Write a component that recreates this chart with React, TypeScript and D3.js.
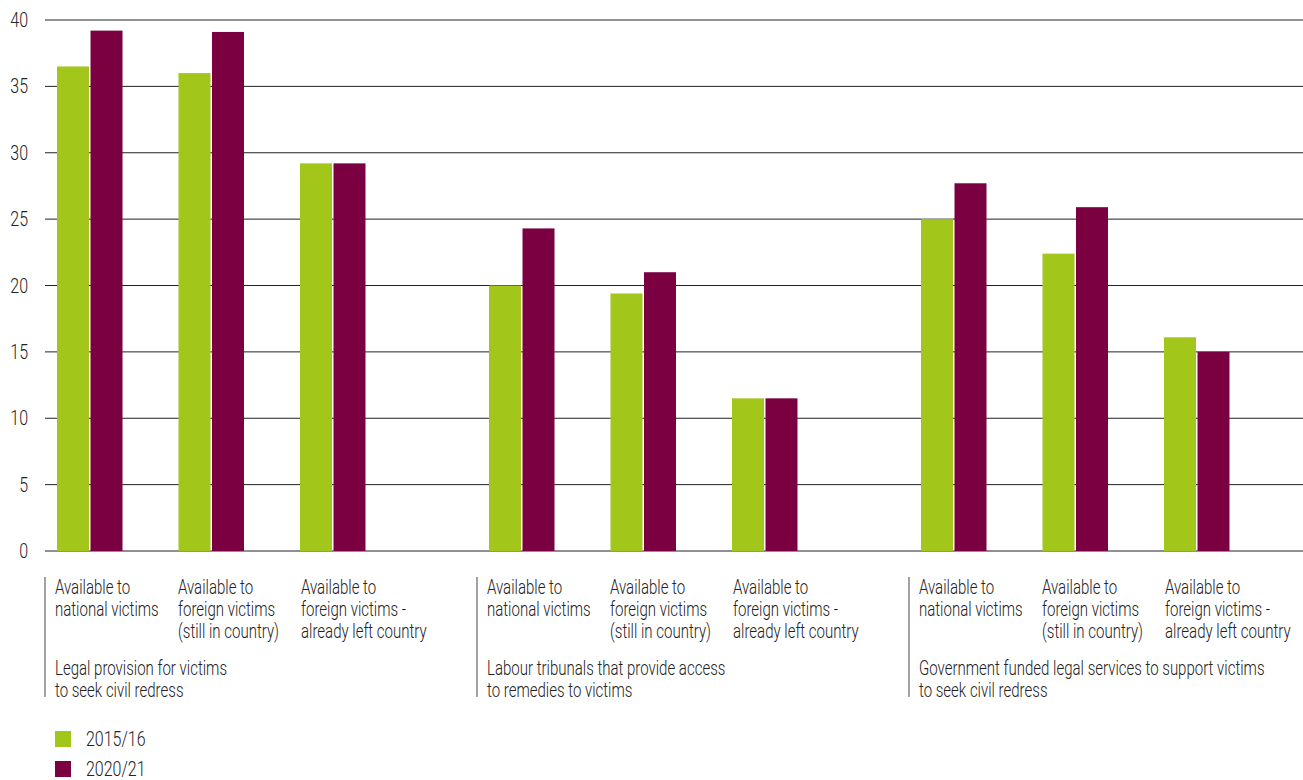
import React from "react";
import * as d3 from "d3";

const groups = [
  ["Legal provision for victims", "to seek civil redress"],
  ["Labour tribunals that provide access", "to remedies to victims"],
  ["Government funded legal services to support victims", "to seek civil redress"],
];
const categories = [
  ["Available to", "national victims"],
  ["Available to", "foreign victims", "(still in country)"],
  ["Available to", "foreign victims -", "already left country"],
];
const seriesNames = ["2015/16", "2020/21"];
const values2015 = [36.5, 36.0, 29.2, 20.0, 19.4, 11.5, 25.0, 22.4, 16.1];
const values2020 = [39.2, 39.1, 29.2, 24.3, 21.0, 11.5, 27.7, 25.9, 15.0];
const yTicks = [0, 5, 10, 15, 20, 25, 30, 35, 40];

const colors = ["#a3c61a", "#7b0041"];
const FONT = "Roboto, 'Liberation Sans', sans-serif";
const W = 1303;
const H = 780;
const FS = 19.5;
const SX = 0.77;

function CT(props: { x: number; y: number; anchor?: string; dy?: string; sx?: number; children: any }) {
  const sx = props.sx ?? SX;
  return (
    <text
      transform={`translate(${props.x},${props.y}) scale(${sx},1)`}
      textAnchor={props.anchor ?? "start"}
      dy={props.dy}
      fontSize={FS}
      fontWeight={300}
      fill="#222"
    >
      {props.children}
    </text>
  );
}

export default function App() {
  const plotLeft = 45;
  const plotRight = 1303;
  const y = d3.scaleLinear().domain([0, 40]).range([551, 20]);
  const groupX = d3
    .scaleBand<number>()
    .domain(d3.range(groups.length))
    .range([45, 45 + 432 * 3]);
  const catX = d3
    .scaleBand<number>()
    .domain(d3.range(categories.length))
    .range([12, 12 + 121.5 * 3]);
  const catLabelX = d3
    .scaleBand<number>()
    .domain(d3.range(categories.length))
    .range([10, 10 + 123 * 3]);
  const barW = 32;
  const barGap = 1.5;
  const series = [values2015, values2020];

  return (
    <svg
      width={W}
      height={H}
      style={{ position: "absolute", left: 0, top: 0, background: "#fff" }}
      fontFamily={FONT}
    >
      {yTicks.map((t) => (
        <g key={t}>
          <line x1={plotLeft} x2={plotRight} y1={y(t)} y2={y(t)} stroke="#222" strokeWidth={1} />
          <CT x={28} y={y(t)} dy="0.36em" anchor="end" sx={0.82}>
            {t}
          </CT>
        </g>
      ))}
      {groups.map((g, gi) => {
        const gx = groupX(gi)!;
        return (
          <g key={gi}>
            {categories.map((c, ci) => {
              const bx = gx + catX(ci)!;
              const idx = gi * categories.length + ci;
              return (
                <g key={ci}>
                  {series.map((s, si) => (
                    <rect
                      key={si}
                      x={bx + si * (barW + barGap)}
                      y={y(s[idx])}
                      width={barW}
                      height={y(0) - y(s[idx])}
                      fill={colors[si]}
                    />
                  ))}
                  {c.map((line, li) => (
                    <CT key={li} x={gx + catLabelX(ci)!} y={594 + li * 22}>
                      {line}
                    </CT>
                  ))}
                </g>
              );
            })}
            <line x1={gx} x2={gx} y1={577} y2={697} stroke="#444" strokeWidth={1} />
            {g.map((line, li) => (
              <CT key={li} x={gx + 10} y={675 + li * 22}>
                {line}
              </CT>
            ))}
          </g>
        );
      })}
      {seriesNames.map((n, i) => (
        <g key={n}>
          <rect x={55} y={731 + i * 30} width={16} height={16} fill={colors[i]} />
          <CT x={86} y={746 + i * 30} sx={0.82}>
            {n}
          </CT>
        </g>
      ))}
    </svg>
  );
}
